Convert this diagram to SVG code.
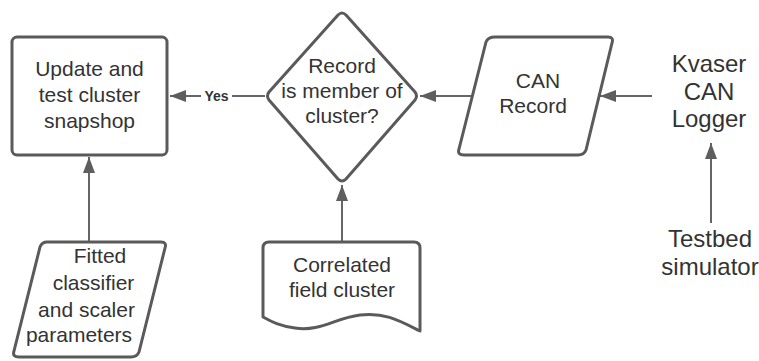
<svg xmlns="http://www.w3.org/2000/svg" width="759" height="361" viewBox="0 0 759 361">
  <style>
    .shape { fill: #ffffff; stroke: #5a5a5a; stroke-width: 3; stroke-linejoin: round; }
    .edge { fill: none; stroke: #666666; stroke-width: 2; }
    .lbl { font-family: "Liberation Sans", Arial, sans-serif; font-size: 21px; fill: #333333; text-anchor: middle; }
    .big { font-size: 24px; }
    .yes { font-family: "Liberation Sans", Arial, sans-serif; font-size: 14px; font-weight: bold; fill: #333333; }
  </style>
  <defs>
    <marker id="arrow" viewBox="0 0 16 12" refX="16" refY="6" markerWidth="16" markerHeight="12" markerUnits="userSpaceOnUse" orient="auto">
      <path d="M0,0 L16,6 L0,12 Z" fill="#5e5e5e"/>
    </marker>
  </defs>
  <rect width="759" height="361" fill="#ffffff"/>

  <!-- connectors -->
  <g id="connectors">
    <line class="edge" x1="232" y1="96" x2="265" y2="96"/>
    <line class="edge" x1="201" y1="96" x2="170" y2="96" marker-end="url(#arrow)"/>
    <text class="yes" x="216.5" y="101" text-anchor="middle">Yes</text>
    <line class="edge" x1="474" y1="96" x2="420" y2="96" marker-end="url(#arrow)"/>
    <line class="edge" x1="652" y1="96" x2="600" y2="96" marker-end="url(#arrow)"/>
    <line class="edge" x1="711" y1="223" x2="711" y2="143" marker-end="url(#arrow)"/>
    <line class="edge" x1="89" y1="242" x2="89" y2="157" marker-end="url(#arrow)"/>
    <line class="edge" x1="342" y1="242" x2="342" y2="185" marker-end="url(#arrow)"/>
  </g>

  <!-- process: update and test -->
  <g id="update">
    <rect class="shape" x="12" y="37" width="155" height="118" rx="5"/>
    <text class="lbl" x="89.5" y="76">Update and</text>
    <text class="lbl" x="89.5" y="102">test cluster</text>
    <text class="lbl" x="89.5" y="128">snapshop</text>
  </g>

  <!-- decision -->
  <g id="decision">
    <path class="shape" d="M338,15 Q342,11 346,15 L415,92 Q418,96 415,100 L346,179 Q342,183 338,179 L269,100 Q266,96 269,92 Z"/>
    <text class="lbl" x="342" y="73">Record</text>
    <text class="lbl" x="342" y="98">is member of</text>
    <text class="lbl" x="342" y="123">cluster?</text>
  </g>

  <!-- data: CAN record -->
  <g id="can-record">
    <path class="shape" d="M495,37 L608,37 Q614,37 612,43 L586,150 Q584,155 578,155 L464,155 Q457,155 459,149 L486,42 Q488,37 495,37 Z"/>
    <text class="lbl" x="538" y="88">CAN</text>
    <text class="lbl" x="533" y="113">Record</text>
  </g>

  <!-- source: Kvaser logger -->
  <g id="kvaser">
    <text class="lbl big" x="709" y="72">Kvaser</text>
    <text class="lbl big" x="709" y="100">CAN</text>
    <text class="lbl big" x="709" y="127">Logger</text>
  </g>

  <!-- source: testbed -->
  <g id="testbed">
    <text class="lbl big" x="710" y="247">Testbed</text>
    <text class="lbl big" x="710" y="275">simulator</text>
  </g>

  <!-- data: fitted parameters -->
  <g id="fitted">
    <path class="shape" d="M47,242 L161,242 Q167,242 165,248 L139,352 Q137,357 131,357 L19,357 Q12,357 14,351 L40,247 Q42,242 47,242 Z"/>
    <text class="lbl" x="100" y="263">Fitted</text>
    <text class="lbl" x="93.5" y="290">classifier</text>
    <text class="lbl" x="86.5" y="317">and scaler</text>
    <text class="lbl" x="79" y="342">parameters</text>
  </g>

  <!-- document: correlated field cluster -->
  <g id="cluster-doc">
    <path class="shape" d="M269,242 L414,242 Q420,242 420,248 L420,331 C400,321 385,312 360,315 C335,318 320,332 295,328 C280,326 272,322 263,317 L263,248 Q263,242 269,242 Z"/>
    <text class="lbl" x="342" y="272">Correlated</text>
    <text class="lbl" x="342" y="297">field cluster</text>
  </g>
</svg>
